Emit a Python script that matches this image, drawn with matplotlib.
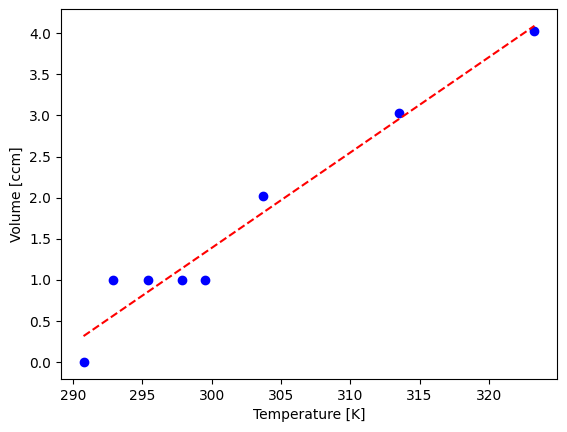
import numpy as np
import matplotlib.pyplot as plt

# Temperatures (K) et volumes mesurés
temperature = [290.77, 292.88, 295.45, 297.9, 299.55, 303.68, 313.52, 323.28]
volume = [0.0, 1.0, 1.0, 1.0, 1.0, 2.02, 3.03, 4.03]

T = np.array(temperature)
V = np.array(volume)
a, b = np.polyfit(T, V, 1)
T_fit = np.array([T.min(), T.max()])

fig = plt.figure(figsize=(5.67, 4.32), dpi=100)
ax = fig.add_axes([61/567, 1 - 379/432, 496/567, 370/432])
ax.plot(T, V, 'bo')
ax.plot(T_fit, a*T_fit + b, 'r--')
ax.set_xlabel('Temperature [K]')
ax.set_ylabel('Volume [ccm]')
fig.savefig('out.png', dpi=100)
